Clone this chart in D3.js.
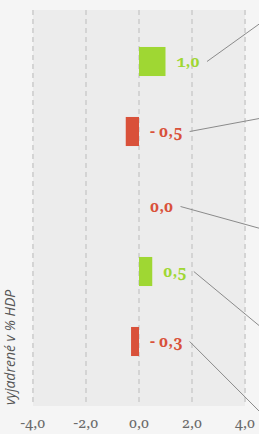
<!DOCTYPE html>
<html>
<head>
<meta charset="utf-8">
<script src="https://cdn.jsdelivr.net/npm/d3@7"></script>
<style>
	body { margin: 0; background: #f5f5f5; }
	svg { display: block; }
	.num { font-family: "Noto Serif", "DejaVu Serif", serif; font-feature-settings: "onum" 1; }
</style>
</head>
<body>
<svg id="chart" width="259" height="434"></svg>
<script>
	// data
	var categories = ["a", "b", "c", "d", "e"];
	var values     = [1.0, -0.5, 0.0, 0.5, -0.3];
	var labels     = ["1,0", "- 0,5", "0,0", "0,5", "- 0,3"];
	var colors     = ["#9fd733", "#d9513a", "#d9513a", "#9fd733", "#d9513a"];
	var ticks      = [-4, -2, 0, 2, 4];
	var tickLabels = ["-4,0", "-2,0", "0,0", "2,0", "4,0"];
	var leaderEnd  = [22, 118, 229, 328, 414];   // y where the leader leaves the picture

	var v_SVG = d3.select("#chart");

	var x = d3.scaleLinear().domain([-4, 4]).range([33, 245]);
	var y = d3.scaleBand().domain(categories).range([26.5, 376.5]).paddingInner(0.585).paddingOuter(0.2925);

	// plot background
	v_SVG.append("rect")
	.attr("x", x(-4)).attr("y", 10)
	.attr("width", x(4) - x(-4)).attr("height", 396)
	.attr("fill", "#ececec");

	// grid
	v_SVG.selectAll("line.grid").data(ticks).enter().append("line")
	.attr("class", "grid")
	.attr("x1", function (d) { return x(d); })
	.attr("x2", function (d) { return x(d); })
	.attr("y1", 10).attr("y2", 406)
	.attr("stroke", "#d4d4d4")
	.attr("stroke-width", 2)
	.attr("stroke-dasharray", "5,4");

	// x axis labels
	v_SVG.selectAll("text.tick").data(ticks).enter().append("text")
	.attr("class", "tick num")
	.attr("x", function (d) { return x(d); })
	.attr("y", 428)
	.attr("text-anchor", "middle")
	.attr("font-size", 14.5)
	.attr("fill", "#6a6a6a")
	.text(function (d, i) { return tickLabels[i]; });

	// bars
	v_SVG.selectAll("rect.bar").data(values).enter().append("rect")
	.attr("class", "bar")
	.attr("x", function (d) { return x(Math.min(0, d)); })
	.attr("y", function (d, i) { return y(categories[i]); })
	.attr("width", function (d) { return Math.abs(x(d) - x(0)); })
	.attr("height", y.bandwidth())
	.attr("fill", function (d, i) { return colors[i]; });

	// value labels (the zero one sits a little lower in the original)
	var v_Labels = v_SVG.selectAll("text.val").data(values).enter().append("text")
	.attr("class", "val num")
	.attr("x", function (d) { return x(Math.max(0, d)) + 11; })
	.attr("y", function (d, i) { return y(categories[i]) + y.bandwidth() / 2 + (d === 0 ? 10 : 5); })
	.attr("font-size", 16)
	.attr("font-weight", "bold")
	.attr("fill", function (d, i) { return colors[i]; })
	.text(function (d, i) { return labels[i]; });

	// leader lines
	v_Labels.each(function (d, i) {
		var b = this.getBBox();
		v_SVG.append("line")
		.attr("x1", b.x + b.width + 7)
		.attr("y1", b.y + b.height / 2 + 1)
		.attr("x2", 262)
		.attr("y2", leaderEnd[i])
		.attr("stroke", "#8a8a8a")
		.attr("stroke-width", 1);
	});

	// y axis title
	v_SVG.append("text")
	.attr("transform", "translate(15,405) rotate(-90)")
	.attr("font-family", "Open Sans, sans-serif")
	.attr("font-style", "italic")
	.attr("font-size", 14)
	.attr("fill", "#555")
	.text("vyjadrené v % HDP");
</script>
</body>
</html>
